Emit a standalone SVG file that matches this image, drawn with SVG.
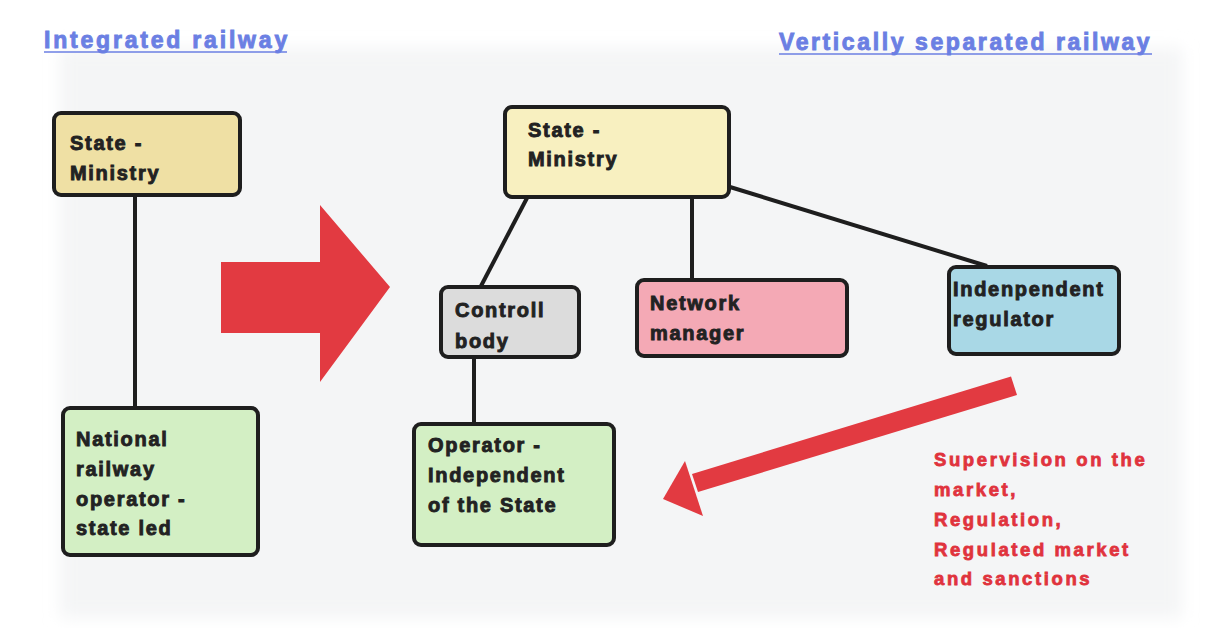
<svg xmlns="http://www.w3.org/2000/svg" width="1208" height="628" viewBox="0 0 1208 628">
  <defs>
    <filter id="soft" x="-5%" y="-5%" width="110%" height="110%">
      <feGaussianBlur stdDeviation="8"/>
    </filter>
    <style>
      .box { stroke: #1e1e1e; stroke-width: 4; }
      .lbl { font-family: "Liberation Sans", Arial, sans-serif; font-weight: bold; font-size: 20px; letter-spacing: 1.7px; fill: #222222; stroke: #222222; stroke-width: 0.9px; }
      .title { font-family: "Liberation Sans", Arial, sans-serif; font-weight: bold; font-size: 23px; fill: #6b7fe3; stroke: #6b7fe3; stroke-width: 0.9px; }
      .uline { stroke: #6b7fe3; stroke-width: 1.6; }
      .note { font-family: "Liberation Sans", Arial, sans-serif; font-weight: bold; font-size: 18.5px; letter-spacing: 2.6px; fill: #e0333d; stroke: #e0333d; stroke-width: 0.8px; }
      .link { stroke: #1e1e1e; stroke-width: 4; fill: none; }
      .red { fill: #e23a41; }
    </style>
  </defs>

  <!-- page background -->
  <rect width="1208" height="628" fill="#ffffff"/>
  <rect x="60" y="48" width="1122" height="570" fill="#f4f5f6" filter="url(#soft)"/>

  <!-- section titles -->
  <g id="titles">
    <text class="title" x="44" y="48" letter-spacing="2.8">Integrated railway</text>
    <line class="uline" x1="44" y1="52" x2="287" y2="52"/>
    <text class="title" x="779" y="50" letter-spacing="2.6">Vertically separated railway</text>
    <line class="uline" x1="779" y1="54" x2="1152" y2="54"/>
  </g>

  <!-- connectors -->
  <g id="connectors">
    <line class="link" x1="135" y1="195" x2="135" y2="408"/>
    <line class="link" x1="527" y1="198" x2="481" y2="286"/>
    <line class="link" x1="692" y1="198" x2="692" y2="280"/>
    <line class="link" x1="730" y1="187" x2="987" y2="266"/>
    <line class="link" x1="474" y1="357" x2="474" y2="425"/>
  </g>

  <!-- transition arrow -->
  <polygon id="big-arrow" class="red" points="221,262 320,262 320,205 390,287 320,382 320,333 221,333"/>

  <!-- regulator influence arrow -->
  <g id="influence-arrow">
    <polygon class="red" points="1011,376.5 1017,395 698,492 692,474"/>
    <polygon class="red" points="685,461 663,499 703,516"/>
  </g>

  <!-- integrated railway -->
  <g id="ministry-left">
    <rect class="box" x="54" y="113" width="186" height="82" rx="7" fill="#efe0a4"/>
    <text class="lbl" x="70" y="150">State -</text>
    <text class="lbl" x="70" y="180">Ministry</text>
  </g>
  <g id="national-operator">
    <rect class="box" x="63" y="408" width="195" height="147" rx="7" fill="#d3efc4"/>
    <text class="lbl" x="76" y="446">National</text>
    <text class="lbl" x="76" y="476">railway</text>
    <text class="lbl" x="76" y="506">operator -</text>
    <text class="lbl" x="76" y="535">state led</text>
  </g>

  <!-- vertically separated railway -->
  <g id="ministry-right">
    <rect class="box" x="505" y="107" width="224" height="90" rx="7" fill="#f8f0c0"/>
    <text class="lbl" x="528" y="137">State -</text>
    <text class="lbl" x="528" y="166">Ministry</text>
  </g>
  <g id="control-body">
    <rect class="box" x="441" y="287" width="138" height="70" rx="7" fill="#dcdcdc"/>
    <text class="lbl" x="455" y="317">Controll</text>
    <text class="lbl" x="455" y="348">body</text>
  </g>
  <g id="network-manager">
    <rect class="box" x="637" y="280" width="210" height="76" rx="7" fill="#f4a9b5"/>
    <text class="lbl" x="650" y="310">Network</text>
    <text class="lbl" x="650" y="340">manager</text>
  </g>
  <g id="regulator">
    <rect class="box" x="949" y="267" width="170" height="87" rx="7" fill="#a9d8e6"/>
    <text class="lbl" x="953" y="296">Indenpendent</text>
    <text class="lbl" x="953" y="326">regulator</text>
  </g>
  <g id="independent-operator">
    <rect class="box" x="414" y="424" width="200" height="121" rx="7" fill="#d3efc4"/>
    <text class="lbl" x="428" y="452">Operator -</text>
    <text class="lbl" x="428" y="482">Independent</text>
    <text class="lbl" x="428" y="512">of the State</text>
  </g>

  <!-- regulator tasks -->
  <g id="regulator-tasks">
    <text class="note" x="934" y="466">Supervision on the</text>
    <text class="note" x="934" y="496">market,</text>
    <text class="note" x="934" y="526">Regulation,</text>
    <text class="note" x="934" y="556">Regulated market</text>
    <text class="note" x="934" y="585">and sanctions</text>
  </g>
</svg>
